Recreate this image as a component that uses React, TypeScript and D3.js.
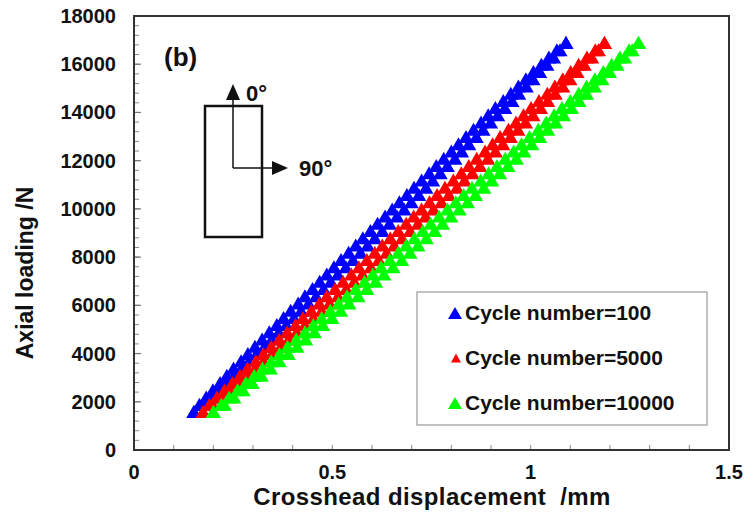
import React from "react";
import * as d3 from "d3";

// Axial load levels (N) at which each displacement was read
const loads = [
  1600, 1900, 2200, 2500, 2800, 3100, 3400, 3700, 4000, 4300, 4600, 4900, 5200,
  5500, 5800, 6100, 6400, 6700, 7000, 7300, 7600, 7900, 8200, 8500, 8800, 9100,
  9400, 9700, 10000, 10300, 10600, 10900, 11200, 11500, 11800, 12100, 12400,
  12700, 13000, 13300, 13600, 13900, 14200, 14500, 14800, 15100, 15400, 15700,
  16000, 16300, 16600, 16900,
];

// Cycle number = 100 (loading / unloading branch), mm
const c100Loading = [
  0.151, 0.165, 0.182, 0.199, 0.217, 0.234, 0.251, 0.27, 0.287, 0.305, 0.323,
  0.341, 0.36, 0.377, 0.395, 0.414, 0.431, 0.45, 0.468, 0.486, 0.504, 0.522,
  0.541, 0.559, 0.577, 0.596, 0.614, 0.633, 0.651, 0.669, 0.688, 0.706, 0.725,
  0.744, 0.762, 0.781, 0.8, 0.818, 0.837, 0.856, 0.875, 0.893, 0.911, 0.931,
  0.95, 0.969, 0.988, 1.007, 1.027, 1.046, 1.066, 1.089,
];
const c100Unloading = [
  0.151, 0.173, 0.194, 0.213, 0.233, 0.252, 0.271, 0.29, 0.309, 0.329, 0.347,
  0.365, 0.384, 0.403, 0.421, 0.44, 0.459, 0.478, 0.496, 0.514, 0.534, 0.552,
  0.571, 0.589, 0.607, 0.626, 0.644, 0.663, 0.681, 0.699, 0.718, 0.736, 0.753,
  0.772, 0.79, 0.809, 0.826, 0.844, 0.863, 0.88, 0.899, 0.917, 0.935, 0.953,
  0.97, 0.989, 1.006, 1.023, 1.041, 1.058, 1.074, 1.089,
];

// Cycle number = 5000
const c5000Loading = [
  0.174, 0.19, 0.209, 0.228, 0.248, 0.267, 0.286, 0.307, 0.326, 0.346, 0.366,
  0.386, 0.407, 0.426, 0.447, 0.467, 0.486, 0.507, 0.527, 0.548, 0.567, 0.587,
  0.607, 0.626, 0.646, 0.666, 0.686, 0.705, 0.725, 0.745, 0.764, 0.784, 0.805,
  0.825, 0.844, 0.864, 0.885, 0.904, 0.923, 0.944, 0.963, 0.982, 1.001, 1.021,
  1.042, 1.061, 1.081, 1.101, 1.121, 1.142, 1.163, 1.186,
];
const c5000Unloading = [
  0.174, 0.198, 0.221, 0.242, 0.264, 0.285, 0.306, 0.327, 0.348, 0.37, 0.39,
  0.41, 0.431, 0.452, 0.473, 0.493, 0.514, 0.535, 0.555, 0.576, 0.597, 0.617,
  0.637, 0.656, 0.676, 0.696, 0.716, 0.735, 0.755, 0.775, 0.794, 0.814, 0.833,
  0.853, 0.872, 0.892, 0.911, 0.93, 0.949, 0.968, 0.987, 1.006, 1.025, 1.043,
  1.062, 1.081, 1.099, 1.117, 1.135, 1.154, 1.171, 1.186,
];

// Cycle number = 10000
const c10000Loading = [
  0.2, 0.22, 0.24, 0.261, 0.282, 0.303, 0.324, 0.346, 0.367, 0.387, 0.409,
  0.431, 0.452, 0.473, 0.495, 0.516, 0.537, 0.559, 0.581, 0.602, 0.623, 0.645,
  0.666, 0.686, 0.707, 0.728, 0.748, 0.769, 0.79, 0.811, 0.831, 0.852, 0.874,
  0.894, 0.915, 0.936, 0.957, 0.977, 0.997, 1.019, 1.039, 1.059, 1.079, 1.1,
  1.121, 1.141, 1.162, 1.183, 1.204, 1.225, 1.248, 1.272,
];
const c10000Unloading = [
  0.2, 0.228, 0.252, 0.275, 0.298, 0.321, 0.344, 0.366, 0.389, 0.411, 0.433,
  0.455, 0.476, 0.499, 0.521, 0.542, 0.565, 0.587, 0.609, 0.63, 0.653, 0.675,
  0.696, 0.716, 0.737, 0.758, 0.778, 0.799, 0.82, 0.841, 0.861, 0.882, 0.902,
  0.922, 0.943, 0.964, 0.983, 1.003, 1.023, 1.043, 1.063, 1.083, 1.103, 1.122,
  1.141, 1.161, 1.18, 1.199, 1.218, 1.237, 1.256, 1.272,
];

const seriesNames = ["Cycle number=100", "Cycle number=5000", "Cycle number=10000"];
const seriesColors = ["#0000FF", "#FF0000", "#00FF00"];
const seriesBranches = [
  [c100Loading, c100Unloading],
  [c5000Loading, c5000Unloading],
  [c10000Loading, c10000Unloading],
];

const xTicks = [0, 0.5, 1, 1.5];
const xTickLabels = ["0", "0.5", "1", "1.5"];
const yTicks = [0, 2000, 4000, 6000, 8000, 10000, 12000, 14000, 16000, 18000];

const FONT = "'Liberation Sans', Arial, sans-serif";

const tri = (w: number, h: number) =>
  `M0,${-h / 2}L${w / 2},${h / 2}L${-w / 2},${h / 2}Z`;

export default function App() {
  const W = 753;
  const H = 512;
  const x = d3.scaleLinear().domain([0, 1.5]).range([134, 729]);
  const y = d3.scaleLinear().domain([0, 18000]).range([450, 16]);
  const [x0, x1] = x.range();
  const [y0, y1] = y.range();

  const xMinor = d3.range(0, 1.5001, 0.1);
  const yMinor = d3.range(0, 18001, 400);

  const legendSizes = [
    [14, 12],
    [10, 9],
    [14, 12],
  ];

  return (
    <svg
      width={W}
      height={H}
      style={{ position: "absolute", left: 0, top: 0, background: "#fff" }}
      fontFamily={FONT}
    >
      <rect x={0} y={0} width={W} height={H} fill="#fff" />

      {/* ticks (inward) */}
      {xMinor.map((t, i) => (
        <line key={"xm" + i} x1={x(t)} x2={x(t)} y1={y0} y2={y0 - 5} stroke="#888" strokeWidth={1} />
      ))}
      {yMinor.map((t, i) => (
        <line key={"ym" + i} x1={x0} x2={x0 + 5} y1={y(t)} y2={y(t)} stroke="#888" strokeWidth={1} />
      ))}
      {yTicks.map((t, i) => (
        <line key={"yM" + i} x1={x0} x2={x0 + 7} y1={y(t)} y2={y(t)} stroke="#777" strokeWidth={1.2} />
      ))}

      {/* data */}
      {seriesBranches.map((branches, si) => (
        <g key={"s" + si} fill={seriesColors[si]}>
          {branches.map((disp, bi) =>
            disp.map((d, i) => (
              <path
                key={bi + "-" + i}
                d={tri(15, 13)}
                transform={`translate(${x(d)},${y(loads[i])})`}
              />
            ))
          )}
        </g>
      ))}

      {/* frame */}
      <rect x={x0} y={y1} width={x1 - x0} height={y0 - y1} fill="none" stroke="#333" strokeWidth={2} />

      {/* tick labels */}
      {yTicks.map((t, i) => (
        <text key={"yl" + i} x={116} y={y(t) + 7} textAnchor="end" fontSize={20} fontWeight="bold" fill="#111">
          {t}
        </text>
      ))}
      {xTicks.map((t, i) => (
        <text key={"xl" + i} x={x(t)} y={479} textAnchor="middle" fontSize={20} fontWeight="bold" fill="#111">
          {xTickLabels[i]}
        </text>
      ))}

      {/* axis titles */}
      <text
        x={432}
        y={505}
        textAnchor="middle"
        fontSize={24}
        fontWeight="bold"
        letterSpacing={0.4}
        fill="#111"
        style={{ whiteSpace: "pre" }}
      >
        {"Crosshead displacement  /mm"}
      </text>
      <text
        transform="translate(33,273) rotate(-90)"
        textAnchor="middle"
        fontSize={23}
        fontWeight="bold"
        fill="#111"
      >
        Axial loading /N
      </text>

      {/* panel label */}
      <text x={164} y={66} fontSize={26} fontWeight="bold" fill="#111">
        (b)
      </text>

      {/* inset specimen */}
      <rect x={205} y={106} width={57} height={131} fill="none" stroke="#111" strokeWidth={2.5} />
      <line x1={233} y1={168} x2={233} y2={98} stroke="#111" strokeWidth={1.5} />
      <path d="M233,84L240,100L226,100Z" fill="#111" />
      <line x1={233} y1={168} x2={273} y2={168} stroke="#111" strokeWidth={1.5} />
      <path d="M288,168L272,161L272,175Z" fill="#111" />
      <text x={246} y={101} fontSize={22} fontWeight="bold" fill="#111">
        0°
      </text>
      <text x={299} y={176} fontSize={22} fontWeight="bold" fill="#111">
        90°
      </text>

      {/* legend */}
      <rect x={417} y={292} width={290} height={133} fill="#fff" stroke="#999" strokeWidth={1.2} />
      {seriesNames.map((name, i) => {
        const cy = 313 + i * 45;
        return (
          <g key={"lg" + i}>
            <path
              d={tri(legendSizes[i][0], legendSizes[i][1])}
              transform={`translate(${i === 1 ? 456 : 455},${cy})`}
              fill={seriesColors[i]}
            />
            <text x={465} y={cy + 7} fontSize={21} fontWeight="bold" fill="#111">
              {name}
            </text>
          </g>
        );
      })}
    </svg>
  );
}
